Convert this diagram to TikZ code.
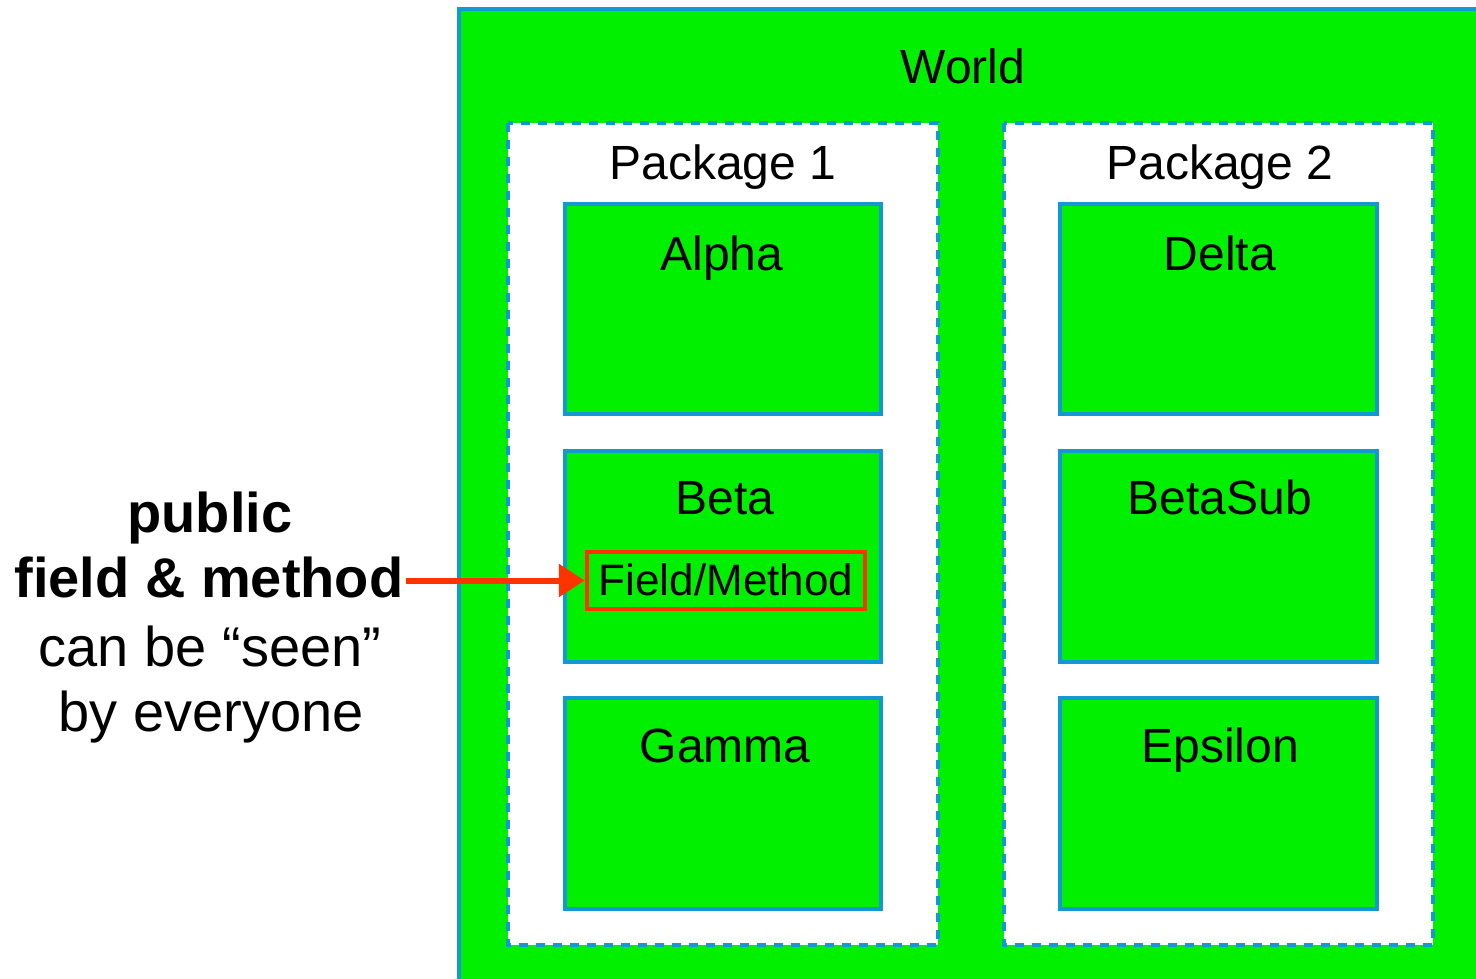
\documentclass[tikz,border=0pt]{standalone}
\usepackage{fontspec}
\setmainfont{Liberation Sans}
\usetikzlibrary{arrows.meta}
\definecolor{boxgreen}{HTML}{00F000}
\definecolor{edgeblue}{HTML}{1299D4}
\definecolor{hotred}{HTML}{FF3300}
\tikzset{
  worldbox/.style={draw=edgeblue, line width=4pt, fill=boxgreen},
  pkgbox/.style={draw=edgeblue, line width=3.5pt, fill=white, dash pattern=on 9pt off 8pt},
  classbox/.style={draw=edgeblue, line width=3.5pt, fill=boxgreen},
  memberbox/.style={draw=hotred, line width=4.5pt},
  lbl/.style={anchor=base, inner sep=0pt, font=\fontsize{48}{56}\selectfont},
  side/.style={anchor=base, inner sep=0pt, font=\fontsize{56}{66}\selectfont},
  sidebold/.style={side, font=\fontsize{56}{66}\selectfont\bfseries},
  pointer/.style={draw=hotred, line width=6pt, -{Triangle[length=26pt,width=32pt]}}
}
\begin{document}
\begin{tikzpicture}[x=1pt, y=-1pt]
\useasboundingbox (0,0) rectangle (1476,979);
% outer world
\draw[worldbox] (459,9) rectangle (1490,995);
\node[lbl] (world) at (963,84) {World};
% packages
\draw[pkgbox] (508,123) rectangle (938,945);
\draw[pkgbox] (1004,123) rectangle (1433,945);
\node[lbl] (pk1) at (723,179) {Package 1};
\node[lbl] (pk2) at (1220,179) {Package 2};
% classes of package 1
\draw[classbox] (565,204) rectangle (881,414);
\draw[classbox] (565,451) rectangle (881,662);
\draw[classbox] (565,698) rectangle (881,909);
\node[lbl] (alpha) at (722,270) {Alpha};
\node[lbl] (beta) at (725,514) {Beta};
\node[lbl] (gamma) at (725,762) {Gamma};
% classes of package 2
\draw[classbox] (1060,204) rectangle (1377,414);
\draw[classbox] (1060,451) rectangle (1377,662);
\draw[classbox] (1060,698) rectangle (1377,909);
\node[lbl] (delta) at (1220,270) {Delta};
\node[lbl] (betasub) at (1220,514) {BetaSub};
\node[lbl] (epsilon) at (1220,762) {Epsilon};
% member inside Beta
\node[memberbox, minimum width=278pt, minimum height=57pt, inner sep=0pt] (member) at (726,580.5) {};
\node[anchor=base, inner sep=0pt, font=\fontsize{44}{52}\selectfont] (membertxt) at (726,595) {Field/Method};
% side note
\node[sidebold] (l1) at (210,532) {public};
\node[sidebold] (l2) at (209,597) {field \& method};
\node[side] (l3) at (210,666) {can be “seen”};
\node[side] (l4) at (211,731) {by everyone};
\coordinate (tail) at (l2.east |- member.west);
\draw[pointer] ([xshift=2pt]tail) -- (member.west);
\end{tikzpicture}
\end{document}
